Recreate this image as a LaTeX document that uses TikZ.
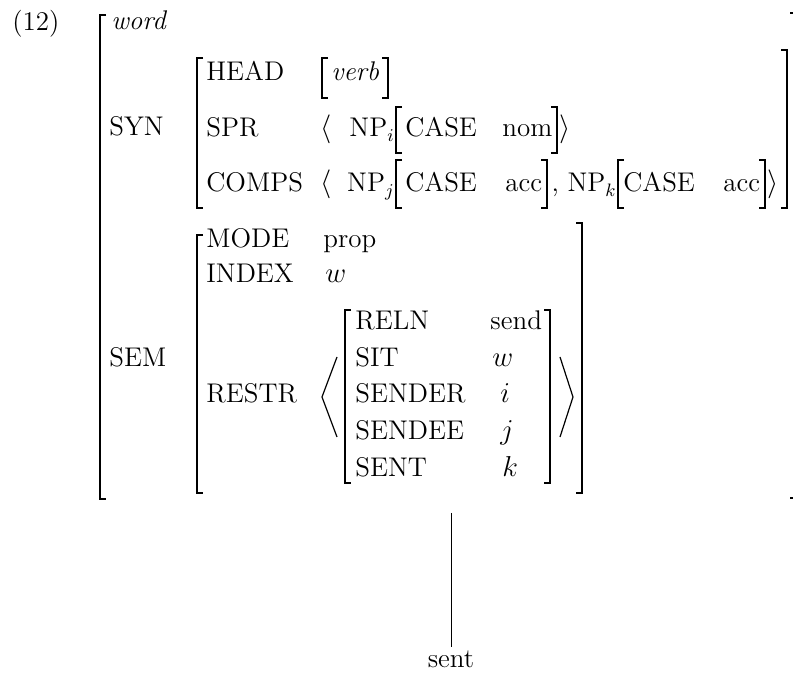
\documentclass[tikz,border=0pt]{standalone}
\usepackage{amsmath, amssymb}
\usepackage{tikz}

\tikzset{
  txt/.style={anchor=base west, inner sep=0pt},
  txtr/.style={anchor=base east, inner sep=0pt},
  brk/.style={line width=0.8pt},
  ang/.style={line width=0.6pt}
}
% left and right brackets: x, top, bottom
\newcommand{\lbrk}[3]{\draw[brk] (#1+6,#2) -- (#1,#2) -- (#1,#3) -- (#1+6,#3);}
\newcommand{\rbrk}[3]{\draw[brk] (#1-6,#2) -- (#1,#2) -- (#1,#3) -- (#1-6,#3);}

\begin{document}
\begin{tikzpicture}[x=0.5pt, y=-0.5pt, font=\fontsize{13.5}{16}\selectfont]

\useasboundingbox (0,0) rectangle (793,673);

\node[txt] (num) at (12,31) {(12)};

% Outer matrix
\lbrk{100}{15}{499}
\rbrk{796}{13}{498}
\node[txt] (word) at (111,30) {\textit{word}};
\node[txt] (syn) at (109,136) {SYN};
\node[txt] (sem) at (109,367) {SEM};

% SYN
\lbrk{197}{58}{208}
\rbrk{787}{50}{208}
\node[txt] (head) at (206,81) {HEAD};
\lbrk{322}{58}{98}
\node[txt] (verb) at (331,81) {\textit{verb}};
\rbrk{388}{58}{98}

\node[txt] (spr) at (206,137) {SPR};
\node[txt] (spr-start) at (320,137) {$\langle$};
\node[txtr] (np-i) at (395,137) {NP$_i$};
\lbrk{396}{107}{153}
\node[txt] (case-i) at (405,137) {CASE};
\node[txt] (nom) at (502,137) {nom};
\rbrk{557}{107}{153}
\node[txt] (spr-end) at (559,137) {$\rangle$};

\node[txt] (comps) at (206,192) {COMPS};
\node[txt] (comps-start) at (320,192) {$\langle$};
\node[txtr] (np-j) at (395,192) {NP$_j$};
\lbrk{396}{160}{208}
\node[txt] (case-j) at (405,192) {CASE};
\node[txt] (acc-j) at (505,192) {acc};
\rbrk{547}{160}{208}
\node[txtr] (np-k) at (617,192) {, NP$_k$};
\lbrk{618}{160}{208}
\node[txt] (case-k) at (623,192) {CASE};
\node[txt] (acc-k) at (723,192) {acc};
\rbrk{765}{160}{208}
\node[txt] (comps-end) at (767,192) {$\rangle$};

% SEM
\lbrk{197}{235}{493}
\rbrk{582}{223}{493}
\node[txt] (mode) at (206,248) {MODE};
\node[txt] (prop) at (323,248) {prop};
\node[txt] (index) at (206,283) {INDEX};
\node[txt] (w) at (325,283) {$w$};
\node[txt] (restr) at (206,403) {RESTR};

\draw[ang] (337,357) -- (322,397) -- (337,437);
\lbrk{345}{310}{483}
\rbrk{550}{310}{483}
\draw[ang] (560,357) -- (573,397) -- (560,437);

\node[txt] (reln) at (355,330) {RELN};
\node[txt] (send) at (490,330) {send};
\node[txt] (sit) at (355,367) {SIT};
\node[txt] (sit-w) at (492,367) {$w$};
\node[txt] (sender) at (355,403) {SENDER};
\node[txt] (sender-i) at (500,403) {$i$};
\node[txt] (sendee) at (355,440) {SENDEE};
\node[txt] (sendee-j) at (500,440) {$j$};
\node[txt] (sent-f) at (355,477) {SENT};
\node[txt] (sent-k) at (502,477) {$k$};

% word form
\coordinate (stem) at (451,513);
\node[anchor=base, inner sep=2pt] (sent) at (451,668) {sent};
\draw (stem) -- (sent);

\end{tikzpicture}
\end{document}
